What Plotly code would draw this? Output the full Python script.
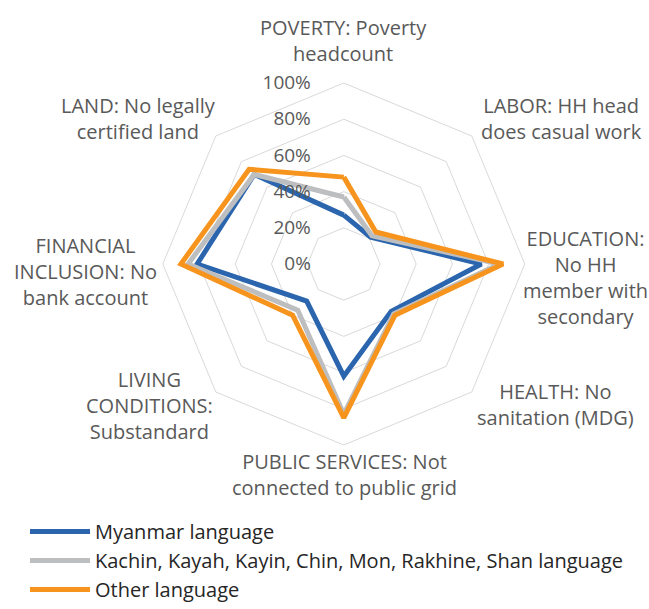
import plotly.graph_objects as go

categories = ["POVERTY", "LABOR", "EDUCATION", "HEALTH", "PUBLIC SERVICES",
              "LIVING CONDITIONS", "FINANCIAL INCLUSION", "LAND"]
category_labels = [
    "POVERTY: Poverty<br>headcount",
    "LABOR: HH head<br>does casual work",
    "EDUCATION:<br>No HH<br>member with<br>secondary",
    "HEALTH: No<br>sanitation (MDG)",
    "PUBLIC SERVICES: Not<br>connected to public grid",
    "LIVING<br>CONDITIONS:<br>Substandard",
    "FINANCIAL<br>INCLUSION: No<br>bank account",
    "LAND: No legally<br>certified land",
]
series_names = ["Myanmar language",
                "Kachin, Kayah, Kayin, Chin, Mon, Rakhine, Shan language",
                "Other language"]
myanmar = [0.27, 0.21, 0.76, 0.37, 0.62, 0.29, 0.81, 0.70]
kachin_etc = [0.37, 0.22, 0.86, 0.39, 0.83, 0.36, 0.86, 0.70]
other = [0.48, 0.25, 0.88, 0.40, 0.85, 0.40, 0.90, 0.74]
tick_vals = [0, 0.2, 0.4, 0.6, 0.8, 1.0]
tick_text = ["0%", "20%", "40%", "60%", "80%", "100%"]

colors = ["#2a65ae", "#bdbec0", "#f7941d"]
font_family = "Open Sans"
text_color = "#595959"
PAD = "\u00a0" * 6  # keeps radial tick labels clear of the axis, as in the original

fig = go.Figure()
for name, vals, col in zip(series_names, [myanmar, kachin_etc, other], colors):
    fig.add_trace(go.Scatterpolar(
        r=vals + vals[:1], theta=categories + categories[:1],
        mode="lines", name=name,
        line=dict(color=col, width=5, shape="linear"),
    ))

W, H = 649, 609
cx, cy, R = 343.8, 264.0, 181.0

label_pos = [(343.7, 40), (561.3, 118.7), (585, 277.5), (555, 404.2),
             (344.2, 474.7), (149, 405), (85.8, 271.2), (138.5, 118.7)]
annotations = []
for txt, (px, py) in zip(category_labels, label_pos):
    annotations.append(dict(
        x=px / W, y=1 - py / H, xref="paper", yref="paper",
        text=txt, showarrow=False, xanchor="center", yanchor="middle",
        align="center", font=dict(family=font_family, size=20, color=text_color),
    ))

fig.update_layout(
    width=W, height=H,
    margin=dict(l=0, r=0, t=0, b=0),
    paper_bgcolor="white", plot_bgcolor="white",
    font=dict(family=font_family, size=19, color=text_color),
    polar=dict(
        domain=dict(x=[(cx - R) / W, (cx + R) / W],
                    y=[1 - (cy + R) / H, 1 - (cy - R) / H]),
        bgcolor="white",
        gridshape="linear",
        radialaxis=dict(
            range=[0, 1], tickvals=tick_vals, ticktext=[t + PAD for t in tick_text],
            angle=90, tickangle=90, side="counterclockwise",
            showline=False, ticks="", gridcolor="#d9d9d9", gridwidth=1,
            tickfont=dict(family=font_family, size=19, color=text_color),
        ),
        angularaxis=dict(
            rotation=90, direction="clockwise",
            showticklabels=False, ticks="", showgrid=False,
            showline=True, linecolor="#d9d9d9", linewidth=1,
        ),
    ),
    showlegend=True,
    legend=dict(
        x=25 / W, y=0, xanchor="left", yanchor="bottom",
        font=dict(family=font_family, size=20, color="#262626"),
        itemwidth=60, tracegroupgap=0, bgcolor="rgba(0,0,0,0)",
    ),
    annotations=annotations,
)

fig.write_html("out.html", config={"displayModeBar": False},
               post_script="document.body.style.margin='0';document.body.style.overflow='hidden';")
